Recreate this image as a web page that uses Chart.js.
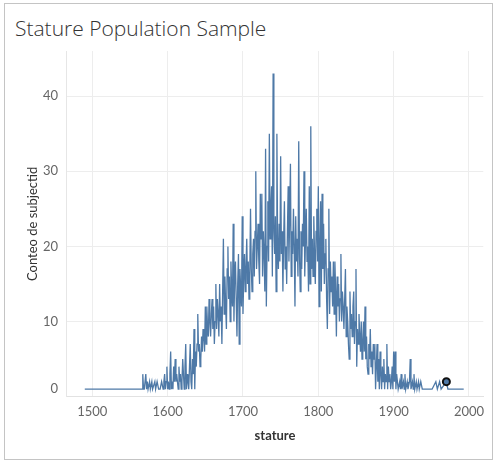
<!DOCTYPE html>
<html>
<head>
<meta charset="utf-8">
<title>Stature Population Sample</title>
<script src="https://cdn.jsdelivr.net/npm/chart.js@4.4.1/dist/chart.umd.min.js"></script>
<style>
  html, body { margin: 0; padding: 0; background: #fff; }
  #frame {
    position: absolute; left: 4px; top: 3px;
    width: 487px; height: 455px;
    border: 1px solid #c4c4c4;
  }
  #title {
    position: absolute; left: 15px; top: 14px; margin: 0;
    font: 300 21px "Open Sans", sans-serif; color: #333;
  }
  #wrap { position: absolute; left: 0; top: 0; width: 496px; height: 463px; }
</style>
</head>
<body>
<div id="frame"></div>
<h1 id="title">Stature Population Sample</h1>
<div id="wrap"><canvas id="statureChart"></canvas></div>
<script>
// stature (mm) and number of subjects with that stature
const stature = [
  1490,
  1566, 1567, 1568, 1569, 1571, 1572, 1573, 1574, 1576, 1577,
  1579, 1580, 1583, 1584, 1586, 1588, 1590, 1592, 1594, 1595,
  1596, 1597, 1598, 1599, 1600,
  1601, 1602, 1603, 1604, 1605, 1606, 1607, 1608, 1609, 1610,
  1611, 1612, 1613, 1614, 1615, 1616, 1617, 1618, 1619, 1620,
  1621, 1622, 1623, 1624, 1625, 1626, 1627, 1628, 1629, 1630,
  1631, 1632, 1633, 1634, 1635, 1636, 1637, 1638, 1639, 1640,
  1641, 1642, 1643, 1644, 1645, 1646, 1647, 1648, 1649, 1650,
  1651, 1652, 1653, 1654, 1655, 1656, 1657, 1658, 1659, 1660,
  1661, 1662, 1663, 1664, 1665, 1666, 1667, 1668, 1669, 1670,
  1671, 1672, 1673, 1674, 1675, 1676, 1677, 1678, 1679, 1680,
  1681, 1682, 1683, 1684, 1685, 1686, 1687, 1688, 1689, 1690,
  1691, 1692, 1693, 1694, 1695, 1696, 1697, 1698, 1699, 1700,
  1701, 1702, 1703, 1704, 1705, 1706, 1707, 1708, 1709, 1710,
  1711, 1712, 1713, 1714, 1715, 1716, 1717, 1718, 1719, 1720,
  1721, 1722, 1723, 1724, 1725, 1726, 1727, 1728, 1729, 1730,
  1731, 1732, 1733, 1734, 1735, 1736, 1737, 1738, 1739, 1740,
  1741, 1742, 1743, 1744, 1745, 1746, 1747, 1748, 1749, 1750,
  1751, 1752, 1753, 1754, 1755, 1756, 1757, 1758, 1759, 1760,
  1761, 1762, 1763, 1764, 1765, 1766, 1767, 1768, 1769, 1770,
  1771, 1772, 1773, 1774, 1775, 1776, 1777, 1778, 1779, 1780,
  1781, 1782, 1783, 1784, 1785, 1786, 1787, 1788, 1789, 1790,
  1791, 1792, 1793, 1794, 1795, 1796, 1797, 1798, 1799, 1800,
  1801, 1802, 1803, 1804, 1805, 1806, 1807, 1808, 1809, 1810,
  1811, 1812, 1813, 1814, 1815, 1816, 1817, 1818, 1819, 1820,
  1821, 1822, 1823, 1824, 1825, 1826, 1827, 1828, 1829, 1830,
  1831, 1832, 1833, 1834, 1835, 1836, 1837, 1838, 1839, 1840,
  1841, 1842, 1843, 1844, 1845, 1846, 1847, 1848, 1849, 1850,
  1851, 1852, 1853, 1854, 1855, 1856, 1857, 1858, 1859, 1860,
  1861, 1862, 1863, 1864, 1865, 1866, 1867, 1868, 1869, 1870,
  1871, 1872, 1873, 1874, 1875, 1876, 1877, 1878, 1879, 1880,
  1881, 1882, 1883, 1884, 1885, 1886, 1887, 1888, 1889, 1890,
  1891, 1892, 1893, 1894, 1895, 1896, 1897, 1898, 1899, 1900,
  1901, 1902, 1903, 1904, 1905, 1906, 1908, 1909, 1910, 1911,
  1913, 1914, 1915, 1916, 1918, 1919, 1921, 1922, 1923, 1925,
  1926, 1927, 1928, 1930, 1931, 1933, 1934, 1936, 1938, 1941,
  1946, 1951, 1956, 1958, 1961, 1963, 1970, 1972, 1993
];
const subjects = [
  1,
  1, 3, 1, 1, 3, 1, 2, 1, 2, 1,
  2, 1, 2, 1, 2, 1, 1, 2, 1, 2,
  3, 1, 2, 4, 1,
  2, 1, 3, 6, 1, 2, 1, 4, 2, 5,
  2, 3, 2, 1, 4, 2, 3, 1, 2, 5,
  3, 1, 4, 7, 1, 3, 2, 1, 4, 7,
  2, 1, 5, 3, 9, 1, 6, 4, 7, 11,
  6, 7, 4, 5, 8, 6, 9, 8, 6, 12,
  7, 12, 9, 8, 13, 10, 8, 11, 13, 9,
  12, 7, 10, 15, 9, 13, 11, 8, 15, 10,
  12, 7, 14, 21, 11, 16, 12, 9, 17, 20,
  13, 16, 10, 18, 14, 12, 23, 10, 16, 18,
  13, 8, 15, 19, 7, 17, 14, 12, 24, 11,
  16, 19, 14, 17, 21, 15, 18, 13, 16, 25,
  17, 14, 19, 21, 16, 22, 30, 17, 20, 23,
  18, 15, 27, 21, 27, 16, 22, 19, 14, 33,
  12, 20, 26, 18, 35, 21, 25, 28, 16, 43,
  22, 19, 24, 14, 35, 20, 17, 23, 18, 32,
  19, 22, 14, 21, 26, 17, 20, 15, 22, 28,
  18, 24, 31, 16, 22, 19, 25, 20, 12, 24,
  18, 21, 16, 34, 19, 14, 22, 17, 23, 20,
  30, 16, 21, 25, 18, 20, 14, 28, 15, 36,
  17, 21, 16, 24, 19, 15, 22, 25, 18, 28,
  12, 20, 26, 14, 27, 17, 23, 15, 19, 21,
  13, 9, 17, 25, 11, 18, 14, 16, 12, 18,
  11, 18, 14, 8, 16, 12, 15, 10, 13, 19,
  10, 14, 12, 9, 13, 17, 8, 12, 10, 7,
  5, 14, 9, 11, 8, 12, 14, 7, 10, 17,
  4, 9, 7, 11, 8, 6, 10, 5, 7, 10,
  6, 12, 5, 8, 4, 3, 7, 5, 9, 4,
  6, 3, 7, 5, 7, 1, 4, 7, 2, 5,
  1, 6, 3, 1, 4, 2, 5, 1, 3, 2,
  7, 1, 4, 2, 3, 1, 2, 4, 1, 6,
  2, 6, 1, 3, 2, 1, 2, 1, 3, 1,
  2, 1, 3, 1, 2, 1, 2, 5, 1, 2,
  1, 3, 1, 2, 1, 2, 1, 2, 1, 1,
  1, 1, 2, 1, 2, 1, 2, 1, 1
];

// the selected mark
const markedStature = [1970];
const markedSubjects = [2];

const xTicks = [1500, 1600, 1700, 1800, 1900, 2000];
const yTicks = [0, 10, 20, 30, 40];

const blue = '#4e79a7';
const grid = '#ededed';
const tickFont = { family: 'Lato', size: 13 };

function drawChart() {
    const ctx = document.getElementById('statureChart').getContext('2d');

    new Chart(ctx, {
        type: 'line',
        data: {
            datasets: [{
                data: markedStature.map((s, i) => ({ x: s, y: markedSubjects[i] })),
                showLine: false,
                pointRadius: 3.5,
                pointBorderWidth: 2,
                pointBorderColor: '#111',
                pointBackgroundColor: blue
            }, {
                data: stature.map((s, i) => ({ x: s, y: subjects[i] })),
                borderColor: blue,
                borderWidth: 1.3,
                pointRadius: 0,
                tension: 0,
                fill: false
            }]
        },
        options: {
            responsive: true,
            maintainAspectRatio: false,
            animation: false,
            events: [],
            layout: { padding: { top: 51, right: 12.7, bottom: 0, left: 0 } },
            plugins: {
                legend: { display: false },
                tooltip: { enabled: false }
            },
            scales: {
                x: {
                    type: 'linear',
                    min: 1466,
                    max: 2019,
                    afterFit: scale => { scale.height = 66.3; },
                    afterBuildTicks: scale => { scale.ticks = xTicks.map(v => ({ value: v })); },
                    grid: { color: grid, drawTicks: false },
                    border: { color: '#e2e2e2' },
                    ticks: { color: '#666', font: tickFont, padding: 7, callback: v => String(v) },
                    title: {
                        display: true,
                        text: 'stature',
                        color: '#333',
                        font: { family: 'Lato', size: 13, weight: 'bold' },
                        padding: { top: 0, bottom: 19.5 }
                    }
                },
                y: {
                    min: 0,
                    max: 46,
                    afterFit: scale => { scale.width = 66.7; },
                    afterBuildTicks: scale => { scale.ticks = yTicks.map(v => ({ value: v })); },
                    grid: {
                        color: c => (c.tick && c.tick.value === 0 ? 'rgba(0,0,0,0)' : grid),
                        drawTicks: false
                    },
                    border: { color: '#e6e6e6' },
                    ticks: {
                        color: '#666',
                        font: tickFont,
                        padding: 8.7,
                        // Tableau lifts the bottom label inside the pane
                        callback: v => (v === 0 ? ['0', ''] : String(v))
                    },
                    title: {
                        display: true,
                        text: 'Conteo de subjectid',
                        color: '#333',
                        font: { family: 'Lato', size: 13 },
                        padding: { top: 25, bottom: 0 }
                    }
                }
            }
        }
    });
}

window.onload = drawChart;
</script>
</body>
</html>
